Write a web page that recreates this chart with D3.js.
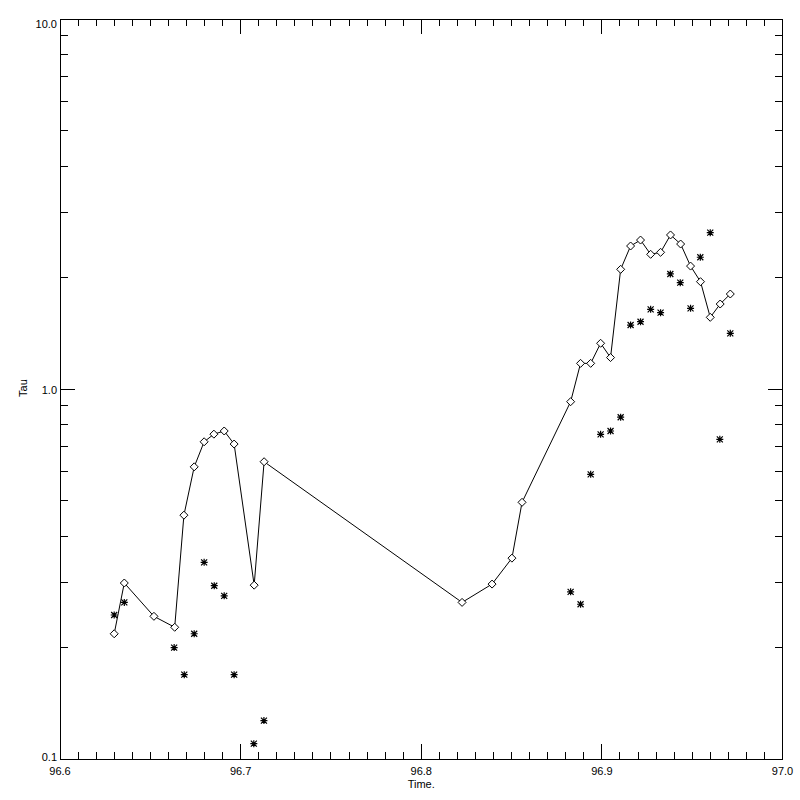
<!DOCTYPE html>
<html>
<head>
<meta charset="utf-8">
<script src="https://cdn.jsdelivr.net/npm/d3@7"></script>
<style>
  html, body { margin: 0; padding: 0; background: #fff; }
  svg { display: block; }
  text { font-family: "Liberation Sans", Arial, sans-serif; font-size: 11px; fill: #000; }
</style>
</head>
<body>
<svg id="chart" width="800" height="800"></svg>
<script>
// Diamond series (connected by a line)
const lineTimes = [96.6300, 96.6356, 96.6520, 96.6635, 96.6686, 96.6743, 96.6798, 96.6852, 96.6909, 96.6964,
  96.7075, 96.7130, 96.8226, 96.8392, 96.8502, 96.8558, 96.8827, 96.8882, 96.8938, 96.8993,
  96.9048, 96.9104, 96.9159, 96.9214, 96.9270, 96.9325, 96.9380, 96.9436, 96.9491, 96.9546,
  96.9600, 96.9655, 96.9711];
const lineTau = [0.218, 0.299, 0.243, 0.227, 0.456, 0.616, 0.720, 0.755, 0.770, 0.710,
  0.295, 0.636, 0.265, 0.297, 0.349, 0.494, 0.924, 1.173, 1.173, 1.329,
  1.216, 2.106, 2.435, 2.527, 2.312, 2.341, 2.608, 2.465, 2.149, 1.950,
  1.562, 1.697, 1.806];

// Asterisk series (points only)
const starTimes = [96.6300, 96.6356, 96.6632, 96.6688, 96.6743, 96.6798, 96.6854, 96.6909, 96.6964, 96.7073,
  96.7129, 96.8827, 96.8882, 96.8938, 96.8993, 96.9048, 96.9104, 96.9159, 96.9214, 96.9270,
  96.9325, 96.9379, 96.9434, 96.9491, 96.9545, 96.9600, 96.9653, 96.9711];
const starTau = [0.245, 0.265, 0.200, 0.169, 0.218, 0.340, 0.294, 0.276, 0.169, 0.110,
  0.127, 0.283, 0.262, 0.588, 0.754, 0.770, 0.839, 1.489, 1.520, 1.642,
  1.608, 2.046, 1.938, 1.652, 2.270, 2.646, 0.731, 1.414];

const xMajorTicks = [96.6, 96.7, 96.8, 96.9, 97.0];
const xTickLabels = ["96.6", "96.7", "96.8", "96.9", "97.0"];
const yMajorTicks = [0.1, 1, 10];
const yTickLabels = ["0.1", "1.0", "10.0"];
const xTitle = "Time.";
const yTitle = "Tau";

const L = 60, R = 782.5, T = 19, B = 759;
const svg = d3.select("#chart");
const x = d3.scaleLinear().domain([96.6, 97.0]).range([L, R]);
const y = d3.scaleLog().domain([0.1, 10]).range([B, T]);

// minor ticks
const xMinor = d3.range(0, 41).map(i => 96.6 + i * 0.01).filter(v => Math.abs(Math.round(v * 10) - v * 10) > 1e-6);
const yMinor = [];
[0.1, 1].forEach(d => { for (let k = 2; k <= 9; k++) yMinor.push(d * k); });

const g = svg.append("g").attr("stroke", "#000").attr("stroke-width", 1).attr("shape-rendering", "crispEdges");

// frame
g.append("rect").attr("x", L).attr("y", T).attr("width", R - L).attr("height", B - T).attr("fill", "none");

// x ticks bottom and top
xMajorTicks.forEach(v => {
  g.append("line").attr("x1", x(v)).attr("x2", x(v)).attr("y1", B).attr("y2", B - 15);
  g.append("line").attr("x1", x(v)).attr("x2", x(v)).attr("y1", T).attr("y2", T + 15);
});
xMinor.forEach(v => {
  g.append("line").attr("x1", x(v)).attr("x2", x(v)).attr("y1", B).attr("y2", B - 7);
  g.append("line").attr("x1", x(v)).attr("x2", x(v)).attr("y1", T).attr("y2", T + 7);
});
// y ticks left and right
yMajorTicks.forEach(v => {
  g.append("line").attr("y1", y(v)).attr("y2", y(v)).attr("x1", L).attr("x2", L + 15);
  g.append("line").attr("y1", y(v)).attr("y2", y(v)).attr("x1", R).attr("x2", R - 15);
});
yMinor.forEach(v => {
  g.append("line").attr("y1", y(v)).attr("y2", y(v)).attr("x1", L).attr("x2", L + 8);
  g.append("line").attr("y1", y(v)).attr("y2", y(v)).attr("x1", R).attr("x2", R - 8);
});

// tick labels
xMajorTicks.forEach((v, i) => {
  svg.append("text").attr("x", x(v)).attr("y", 775).attr("text-anchor", "middle").text(xTickLabels[i]);
});
const yOffsets = [-2.5, 1, 4.5];
yMajorTicks.forEach((v, i) => {
  svg.append("text").attr("x", 57).attr("y", y(v) + yOffsets[i]).attr("text-anchor", "end")
    .attr("dominant-baseline", "central").text(yTickLabels[i]);
});
svg.append("text").attr("x", (L + R) / 2).attr("y", 788).attr("text-anchor", "middle").text(xTitle);
svg.append("text").attr("transform", "translate(27,388) rotate(-90)").attr("text-anchor", "middle").text(yTitle);

// line
const lineData = lineTimes.map((t, i) => [t, lineTau[i]]);
svg.append("path").datum(lineData)
  .attr("fill", "none").attr("stroke", "#000").attr("stroke-width", 1)
  .attr("d", d3.line().x(d => x(d[0])).y(d => y(d[1])));

// diamonds
svg.append("g").selectAll("path").data(lineData).join("path")
  .attr("transform", d => `translate(${x(d[0])},${y(d[1])})`)
  .attr("d", "M0,-4L4,0L0,4L-4,0Z")
  .attr("fill", "#fff").attr("stroke", "#000").attr("stroke-width", 1);

// asterisks
const starData = starTimes.map((t, i) => [t, starTau[i]]);
const s = 3.5, dg = 3;
svg.append("g").selectAll("path").data(starData).join("path")
  .attr("transform", d => `translate(${x(d[0])},${y(d[1])})`)
  .attr("d", `M${-s},0L${s},0M0,${-s}L0,${s}M${-dg},${-dg}L${dg},${dg}M${-dg},${dg}L${dg},${-dg}`)
  .attr("fill", "none").attr("stroke", "#000").attr("stroke-width", 1.2);
</script>
</body>
</html>
